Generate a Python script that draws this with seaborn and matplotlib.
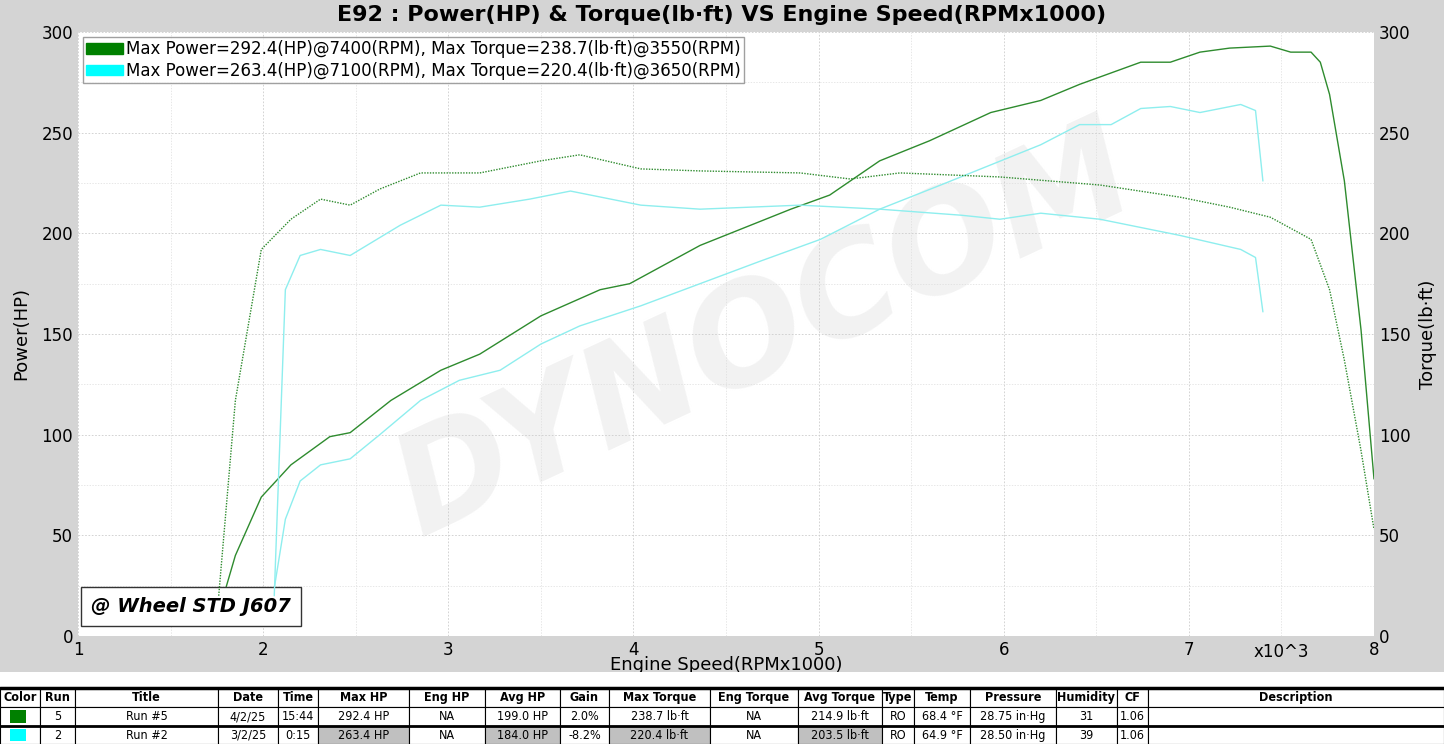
import matplotlib
matplotlib.use('Agg')
import matplotlib.pyplot as plt
from matplotlib.ticker import MultipleLocator
import seaborn as sns

# Run #5 (green)
rpm_pw5 = [1.78, 1.85, 1.99, 2.15, 2.36, 2.47, 2.69, 2.96, 3.17, 3.5, 3.82, 3.98, 4.36, 4.85, 5.06,
           5.33, 5.6, 5.93, 6.2, 6.41, 6.74, 6.9, 7.06, 7.22, 7.44, 7.55, 7.66, 7.71, 7.76, 7.84, 7.93, 8.0]
hp5 = [18, 40, 69, 85, 99, 101, 117, 132, 140, 159, 172, 175, 194, 212, 219,
       236, 246, 260, 266, 274, 285, 285, 290, 292, 293, 290, 290, 285, 269, 226, 152, 78]
rpm_tq5 = [1.76, 1.85, 1.99, 2.15, 2.31, 2.47, 2.63, 2.85, 3.17, 3.5, 3.71, 4.04, 4.36, 4.9, 5.17,
           5.44, 5.98, 6.52, 6.95, 7.22, 7.44, 7.6, 7.66, 7.76, 7.84, 7.93, 8.0]
tq5 = [20, 117, 192, 207, 217, 214, 222, 230, 230, 236, 239, 232, 231, 230, 227,
       230, 228, 224, 218, 213, 208, 200, 197, 172, 137, 92, 53]

# Run #2 (cyan)
rpm_pw2 = [2.05, 2.12, 2.2, 2.31, 2.47, 2.63, 2.85, 3.06, 3.28, 3.5, 3.71, 4.04, 4.36, 4.68, 5.01,
           5.33, 5.66, 5.93, 6.2, 6.41, 6.58, 6.74, 6.9, 7.06, 7.28, 7.36, 7.40]
hp2 = [18, 58, 77, 85, 88, 100, 117, 127, 132, 145, 154, 164, 175, 186, 197,
       212, 224, 234, 244, 254, 254, 262, 263, 260, 264, 261, 226]
rpm_tq2 = [2.06, 2.12, 2.2, 2.31, 2.47, 2.74, 2.96, 3.17, 3.44, 3.66, 4.04, 4.36, 4.9, 5.33, 5.77,
           5.98, 6.2, 6.52, 6.95, 7.28, 7.36, 7.40]
tq2 = [20, 172, 189, 192, 189, 204, 214, 213, 217, 221, 214, 212, 214, 212, 209,
       207, 210, 207, 199, 192, 188, 161]

legend_labels = ["Max Power=292.4(HP)@7400(RPM), Max Torque=238.7(lb·ft)@3550(RPM)",
                 "Max Power=263.4(HP)@7100(RPM), Max Torque=220.4(lb·ft)@3650(RPM)"]

col_names = ["Color", "Run", "Title", "Date", "Time", "Max HP", "Eng HP", "Avg HP", "Gain",
             "Max Torque", "Eng Torque", "Avg Torque", "Type", "Temp", "Pressure", "Humidity", "CF",
             "Description"]
row5 = ["", "5", "Run #5", "4/2/25", "15:44", "292.4 HP", "NA", "199.0 HP", "2.0%", "238.7 lb·ft",
        "NA", "214.9 lb·ft", "RO", "68.4 °F", "28.75 in·Hg", "31", "1.06", ""]
row2 = ["", "2", "Run #2", "3/2/25", "0:15", "263.4 HP", "NA", "184.0 HP", "-8.2%", "220.4 lb·ft",
        "NA", "203.5 lb·ft", "RO", "64.9 °F", "28.50 in·Hg", "39", "1.06", ""]
col_edges = [0, 40, 75, 218, 278, 318, 409, 485, 560, 609, 710, 798, 882, 914, 970, 1056, 1117,
             1148, 1444]

GREEN_LINE = "#2e8b2e"
CYAN_LINE = "#8eeeee"
BG = "#d4d4d4"

sns.set_style("white")
plt.rcParams['font.family'] = ['DejaVu Sans']
plt.rcParams['text.color'] = 'black'
plt.rcParams['axes.labelcolor'] = 'black'
plt.rcParams['xtick.color'] = 'black'
plt.rcParams['ytick.color'] = 'black'

W, H = 1444, 744
fig = plt.figure(figsize=(14.44, 7.44), dpi=100)
fig.patch.set_facecolor(BG)

ax = fig.add_axes([78 / W, 1 - 636 / H, (1374 - 78) / W, (636 - 32) / H])
ax.set_facecolor("white")
ax2 = ax.twinx()

sns.lineplot(x=rpm_pw5, y=hp5, ax=ax, color=GREEN_LINE, lw=1.0, sort=False)
sns.lineplot(x=rpm_pw2, y=hp2, ax=ax, color=CYAN_LINE, lw=1.0, sort=False)
sns.lineplot(x=rpm_tq5, y=tq5, ax=ax2, color=GREEN_LINE, lw=1.0, ls=(0, (1, 1)), sort=False)
sns.lineplot(x=rpm_tq2, y=tq2, ax=ax2, color=CYAN_LINE, lw=1.0, sort=False)

for a in (ax, ax2):
    a.set_xlim(1, 8)
    a.set_ylim(0, 300)
    a.yaxis.set_major_locator(MultipleLocator(50))
    a.yaxis.set_minor_locator(MultipleLocator(25))
    a.tick_params(labelsize=12, length=0, which="both")
    for s in a.spines.values():
        s.set_visible(False)
ax.set_xticks([1, 2, 3, 4, 5, 6, 7, 8])
ax.set_xticks([1.5, 2.5, 3.5, 4.5, 5.5, 6.5, 7.5], minor=True)
ax.set_xticklabels(["1", "2", "3", "4", "5", "6", "7", "8"])
ax.grid(True, which="major", color="#cccccc", ls=(0, (2, 2)), lw=0.6)
ax.grid(True, which="minor", color="#dddddd", ls=(0, (2, 2)), lw=0.5)
ax.text(7.5, -3.5, "x10^3", ha="center", va="top", fontsize=12)
ax.set_ylabel("Power(HP)", fontsize=13, labelpad=8)
ax2.set_ylabel("Torque(lb·ft)", fontsize=13, labelpad=6)
ax.set_xlabel("Engine Speed(RPMx1000)", fontsize=13, labelpad=-2)
fig.text(0.5, 1 - 15 / H, "E92 : Power(HP) & Torque(lb·ft) VS Engine Speed(RPMx1000)",
         ha="center", va="center", fontsize=16, fontweight="bold")

# watermark
ax.text(0.53, 0.5, "DYNOCOM", transform=ax.transAxes, rotation=25, ha="center", va="center",
        fontsize=100, fontweight="bold", fontstyle="italic", color="#f2f2f2", zorder=0)

# legend
handles = [plt.Rectangle((0, 0), 1, 1, color="#008000"), plt.Rectangle((0, 0), 1, 1, color="#00ffff")]
ax2.legend(handles, legend_labels, loc="upper left", bbox_to_anchor=(0.0, 1.0), fontsize=12,
           frameon=True, fancybox=False, edgecolor="#888888", handlelength=2.2, handleheight=0.6,
           borderaxespad=0.3, labelspacing=0.2, borderpad=0.2, handletextpad=0.2)

ax.text(0.01, 0.04, "@ Wheel STD J607", transform=ax.transAxes, fontsize=14, fontweight="bold",
        fontstyle="italic", bbox=dict(boxstyle="square,pad=0.5", fc="white", ec="#333333"))

# results table
tax = fig.add_axes([0, 0, 1, 72 / H])
tax.set_facecolor("white")
tax.set_xlim(0, W)
tax.set_ylim(744, 672)
tax.set_xticks([])
tax.set_yticks([])
for s in tax.spines.values():
    s.set_visible(False)
rows = [(688, 707, col_names, True), (707, 726, row5, False), (726, 744, row2, False)]
grey_cols = {5, 7, 9, 11}
for ri, (y0, y1, vals, header) in enumerate(rows):
    for ci, v in enumerate(vals):
        x0, x1 = col_edges[ci], col_edges[ci + 1]
        fc = "#c0c0c0" if (ri == 2 and ci in grey_cols) else "white"
        tax.add_patch(plt.Rectangle((x0, y0), x1 - x0, y1 - y0, fc=fc, ec="black", lw=0.8))
        tax.text((x0 + x1) / 2, (y0 + y1) / 2, v, ha="center", va="center", fontsize=9,
                 fontweight="bold" if header else "normal", fontstretch="condensed")
    if ri > 0:
        sw = "#008000" if ri == 1 else "#00ffff"
        tax.add_patch(plt.Rectangle((10, y0 + 3), 16, y1 - y0 - 6, fc=sw, ec="none"))
tax.plot([0, W], [688, 688], color="black", lw=2.5)
tax.plot([0, W], [726, 726], color="black", lw=2.0)

fig.savefig("out.png", dpi=100, facecolor=BG)
